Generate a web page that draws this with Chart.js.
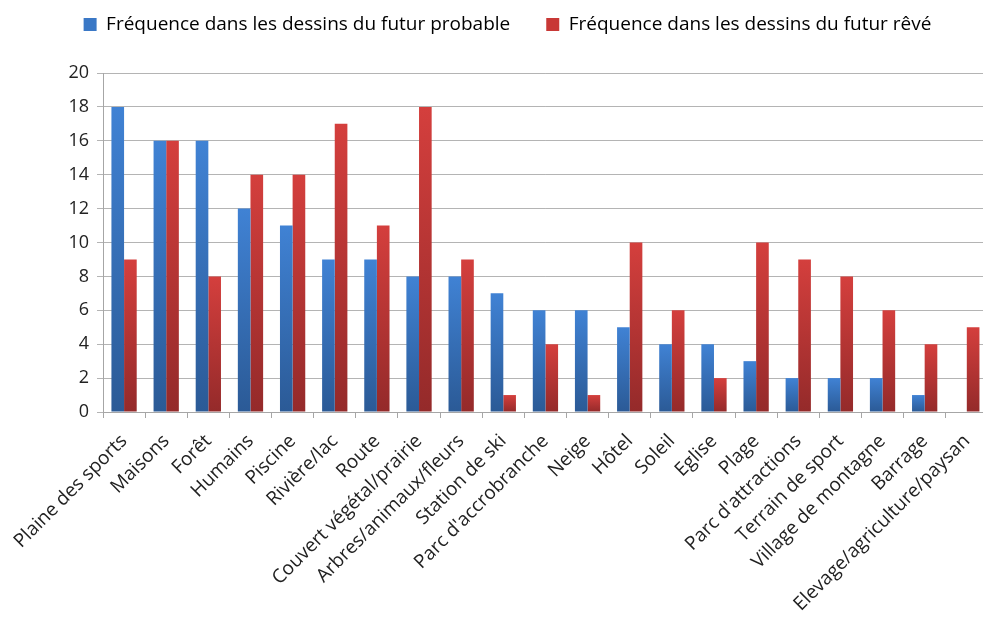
<!DOCTYPE html>
<html>
<head>
<meta charset="utf-8">
<script src="https://cdn.jsdelivr.net/npm/chart.js@4.4.1/dist/chart.umd.min.js"></script>
<style>
  html, body { margin: 0; padding: 0; background: #fff; overflow: hidden; }
  #wrap { width: 995px; height: 618px; }
</style>
</head>
<body>
<div id="wrap"><canvas id="chart" width="995" height="618"></canvas></div>
<script>
// catégories et séries
const categories = [
  'Plaine des sports', 'Maisons', 'Forêt', 'Humains', 'Piscine', 'Rivière/lac',
  'Route', 'Couvert végétal/prairie', 'Arbres/animaux/fleurs', 'Station de ski',
  "Parc d'accrobranche", 'Neige', 'Hôtel', 'Soleil', 'Eglise', 'Plage',
  "Parc d'attractions", 'Terrain de sport', 'Village de montagne', 'Barrage',
  'Elevage/agriculture/paysan'
];
const futurProbable = [18, 16, 16, 12, 11, 9, 9, 8, 8, 7, 6, 6, 5, 4, 4, 3, 2, 2, 2, 1, 0];
const futurReve     = [9, 16, 8, 14, 14, 17, 11, 18, 9, 1, 4, 1, 10, 6, 2, 10, 9, 8, 6, 4, 5];
const yTicks = [0, 2, 4, 6, 8, 10, 12, 14, 16, 18, 20];

const FONT = "'Open Sans', sans-serif";

// dégradé vertical par barre (clair en haut, foncé en bas)
function barGradient(top, bottom) {
  return (context) => {
    const chart = context.chart;
    const y = chart.scales.y;
    if (!y || !chart.chartArea) return top;
    const v = context.raw || 0;
    const y0 = y.getPixelForValue(0);
    const y1 = y.getPixelForValue(v);
    if (y0 === y1) return top;
    const g = chart.ctx.createLinearGradient(0, y1, 0, y0);
    g.addColorStop(0, top);
    g.addColorStop(1, bottom);
    return g;
  };
}

// espace supplémentaire entre la légende et la zone du graphique
const legendGap = {
  id: 'legendGap',
  afterInit(chart) {
    const lg = chart.legend;
    const fit = lg.fit;
    lg.fit = function () {
      fit.call(this);
      this.height += 29;
    };
  }
};

new Chart(document.getElementById('chart'), {
  type: 'bar',
  data: {
    labels: categories,
    datasets: [{
      label: 'Fréquence dans les dessins du futur probable',
      data: futurProbable,
      backgroundColor: barGradient('#4082d4', '#2b5a96'),
      borderWidth: 0
    }, {
      label: 'Fréquence dans les dessins du futur rêvé',
      data: futurReve,
      backgroundColor: barGradient('#d43f3d', '#942a2a'),
      borderWidth: 0
    }]
  },
  plugins: [legendGap],
  options: {
    responsive: false,
    animation: false,
    categoryPercentage: 0.6,
    barPercentage: 1.0,
    layout: { padding: { left: 23, right: 3, top: -21, bottom: 0 } },
    plugins: {
      legend: {
        position: 'top',
        labels: {
          boxWidth: 13,
          boxHeight: 13,
          padding: 36,
          color: '#333',
          font: { family: FONT, size: 19 },
          generateLabels: (chart) => chart.data.datasets.map((ds, i) => ({
            text: ds.label,
            fillStyle: i === 0 ? '#3a78c6' : '#c83836',
            strokeStyle: 'transparent',
            lineWidth: 0,
            datasetIndex: i
          }))
        }
      },
      tooltip: { enabled: false }
    },
    scales: {
      x: {
        offset: true,
        afterFit: (axis) => { axis.height = 206; },
        grid: {
          offset: true,
          drawOnChartArea: false,
          drawTicks: true,
          tickLength: 6,
          color: '#a6a6a6'
        },
        border: { color: '#a6a6a6' },
        ticks: {
          minRotation: 45,
          maxRotation: 45,
          autoSkip: false,
          color: '#222',
          padding: 12,
          font: { family: FONT, size: 19 }
        }
      },
      y: {
        min: 0,
        max: 20,
        afterFit: (axis) => { axis.width = 80; },
        afterBuildTicks: (axis) => { axis.ticks = yTicks.map(v => ({ value: v })); },
        grid: { color: '#b4b4b4', tickLength: 6 },
        border: { color: '#a6a6a6' },
        ticks: {
          color: '#222',
          padding: 8,
          font: { family: FONT, size: 18 }
        }
      }
    }
  }
});
</script>
</body>
</html>
